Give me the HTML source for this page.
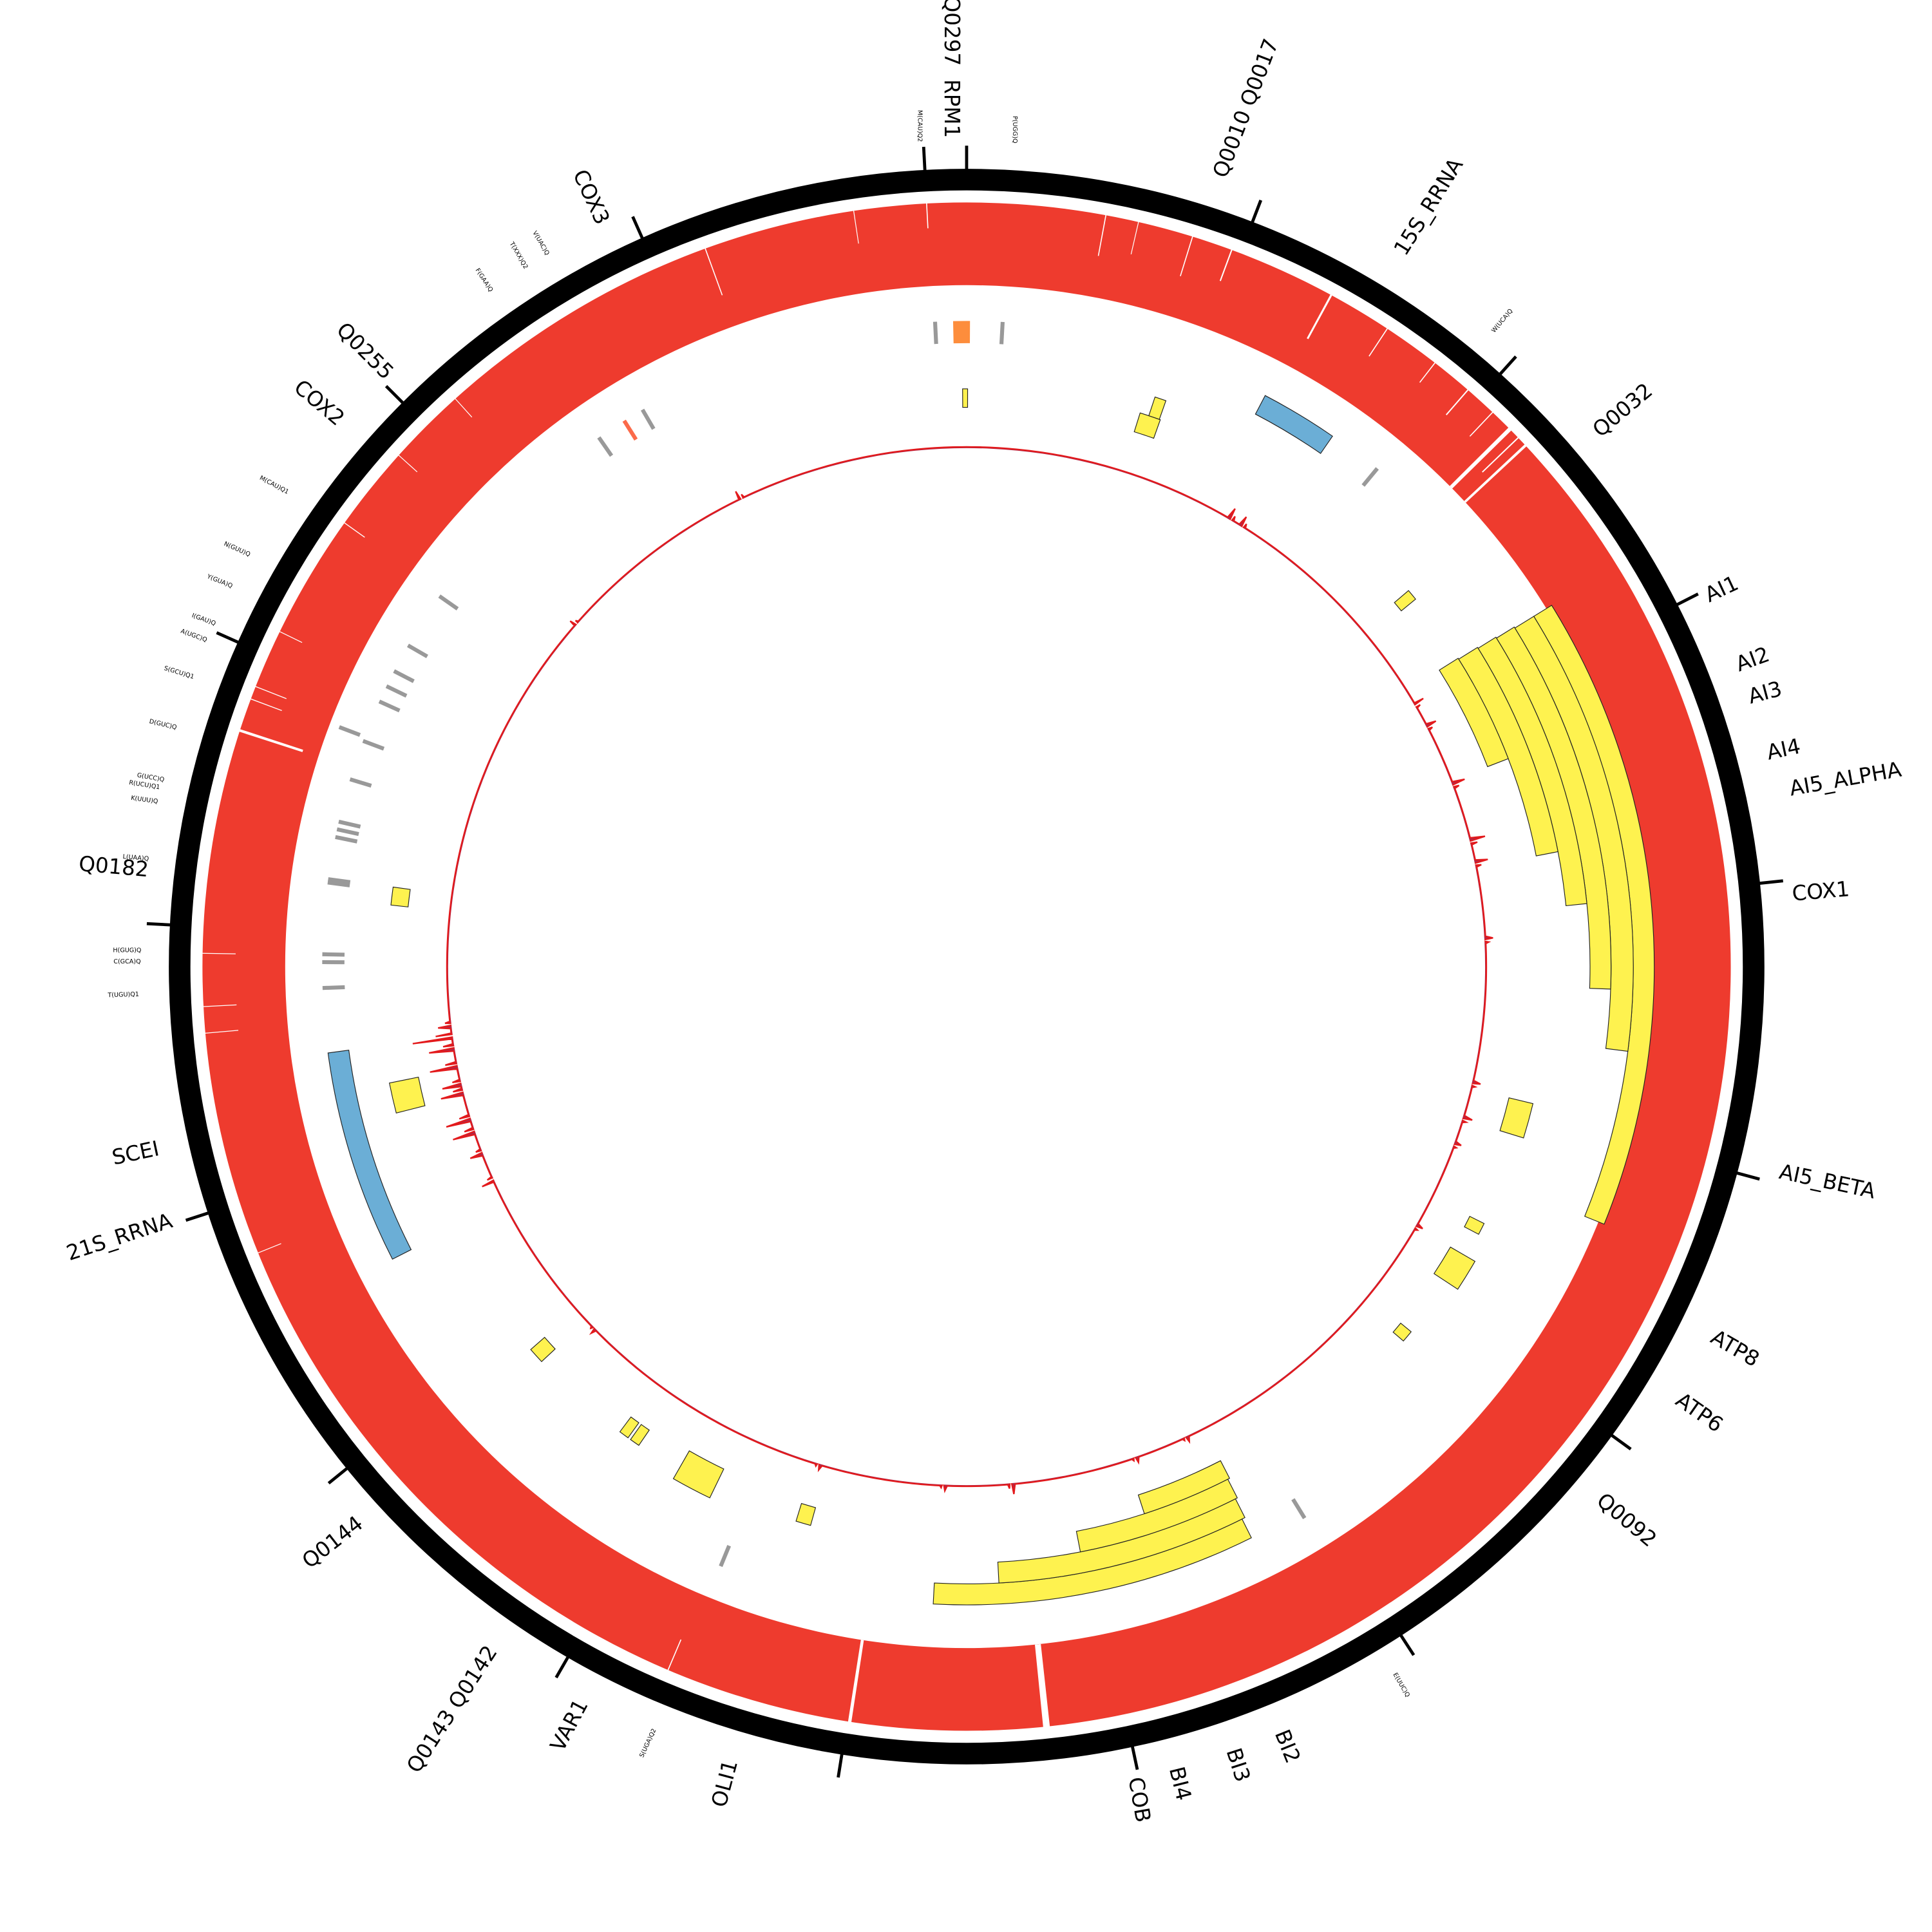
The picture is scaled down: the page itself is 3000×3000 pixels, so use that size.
<!DOCTYPE html>
<html><head><meta charset="utf-8">
<style>
html,body{margin:0;padding:0;background:#fff;}
svg{display:block;}
text{font-family:"DejaVu Sans","Liberation Sans",sans-serif;fill:#000;}
</style></head>
<body>
<svg id="chart" width="3000" height="3000" viewBox="0 0 1565 1565" xmlns="http://www.w3.org/2000/svg">
<g id="layers"></g>
</svg>
<script>
// ---- data ----
const scaleTickAngles = [0,21,42,63,84,105,126,147,168,189,210,231,252,273,294,315,336,357];
// arc features: start angle, end angle, inner r, outer r, kind
const featStart = [58.3,58.3,58.2,58.1,58.0,57.9, 183,177,169,162, 27.6,243, -1.2, -0.4,17.4,18.3,49.6,103.6,116.4,120.1,129.4,195.6,205.8,214.4,215.7,227.1,255.6,276.1];
const featEnd   = [112,97.3,92.0,84.2,79.0,69.0, 153.5,153.2,153.0,152.8, 34.6,262.3, 0.3, 0.1,19.5,19.4,50.7,107.1,117.6,123.3,130.6,197.1,209.8,215.4,216.7,228.7,258.6,277.9];
const featR1    = [540,522,505,488,470,452, 500,483,466,450, 505,505, 505, 453,454,470,455,452,455,453,455,455,452,455,455,455,453,455];
const featR2    = [557,540,522,505,488,470, 517,500,483,466, 522,522, 523, 468,470,486,470,472,468,476,466,470,478,470,470,470,477,469];
const featKind  = ['y','y','y','y','y','y','y','y','y','y','b','b','o','y','y','y','y','y','y','y','y','y','y','y','y','y','y','y'];
// small tRNA marks: angle, radius
const trnaAngle = [357.2,3.2,39.5,325.2,329.8,327.9,305.1,299.9,297.3,294.3,295.8,290.9,290.5,286.9,283.0,282.3,281.6,277.8,277.5,271.1,270.4,268.1,148.5,202.3];
const trnaRad   = [514,514,514,513,513,513,513,513,513,513,513,535,513,513,513,513,513,513,513,513,513,513,515,516];
const trnaRed   = [0,0,0,0,0,1,0,0,0,0,0,0,0,0,0,0,0,0,0,0,0,0,0,0];
// coverage ring white gaps: angle, width(deg), depth fraction
const gapAngle = [10.5,13,17.2,20.3,28.5,33.4,37.8,41,43.5,45.3,46.2,47,174,188.8,203,248,265,267,271,288,290.5,291.5,296,305.5,312,318,340,351.5,357];
const gapW     = [0.08,0.06,0.08,0.1,0.15,0.08,0.08,0.1,0.08,0.3,0.1,0.2,0.5,0.25,0.08,0.06,0.06,0.06,0.06,0.2,0.07,0.07,0.06,0.07,0.06,0.06,0.08,0.06,0.08];
const gapDepth = [0.5,0.4,0.5,0.4,0.6,0.4,0.3,0.4,0.4,1,0.6,1,1,1,0.4,0.3,0.4,0.4,0.4,0.8,0.4,0.4,0.3,0.3,0.3,0.3,0.6,0.4,0.3];
// GC skew spikes: angle, amplitude
const spikeAngle = [334.2,311.2,30.5,32,59.7,62.5,69.5,76,78.5,87,103,107,110,120,155,161,175,182.5,196.5,225.8,245.7,249,251.5,253,256,257,259,261,262.2,263.5];
const spikeAmp   = [7,5,9,8,8,8,10,12,10,6,6,7,5,5,4,4,8,4,4,4,10,10,18,20,18,15,22,20,32,10];
// labels
const labText = ["Q0297","RPM1","Q0010 Q0017","15S_RRNA","Q0032","AI1","AI2","AI3","AI4","AI5_ALPHA","COX1","AI5_BETA","ATP8","ATP6","Q0092","BI2","BI3","BI4","COB","OLI1","VAR1","Q0143  Q0142","Q0144","21S_RRNA","SCEI","Q0182","COX2","Q0255","COX3"];
const labX = [770,770,1010,1158,1315,1395,1420,1430,1445,1495,1475,1480,1405,1376,1317,1042,1002,955,922,588,462,367,270,97,110,92,258,295,478];
const labY = [25,88,88,168,333,478,535,562,608,632,723,958,1093,1145,1232,1415,1430,1445,1458,1445,1398,1385,1250,1003,935,703,327,285,160];
const labRot = [90,90,-69,-58,-40,-25,-20,-15,-12,-10,-5,12,30,35,40,68,72,76,80,-75,-62,-57,-38,-18,-12,5,40,45,65];
const tinyText = ["M(CAU)Q2","P(UGG)Q","W(UCA)Q","V(UAC)Q","T(XXX)Q2","F(GAA)Q","M(CAU)Q1","N(GUU)Q","Y(GUA)Q","I(GAU)Q","A(UGC)Q","S(GCU)Q1","D(GUC)Q","G(UCC)Q","R(UCU)Q1","K(UUU)Q","L(UAA)Q","H(GUG)Q","C(GCA)Q","T(UGU)Q1","E(UUC)Q","S(UGA)Q2"];
const tinyX = [745,822,1217,438,420,392,222,192,178,165,157,145,132,122,117,117,110,103,103,100,1135,525];
const tinyY = [102,105,260,197,207,227,393,445,471,502,515,545,587,630,636,648,695,770,779,806,1365,1412];
const tinyRot = [90,90,-50,60,60,57,28,24,22,20,20,17,13,10,9,8,5,0,0,-2,60,-65];

// ---- drawing ----
const NS="http://www.w3.org/2000/svg", CX=783, CY=783;
const root=document.getElementById('layers');
function P(a,r){const t=a*Math.PI/180;return [CX+r*Math.sin(t),CY-r*Math.cos(t)];}
function el(tag,attrs){const e=document.createElementNS(NS,tag);for(const k in attrs)e.setAttribute(k,attrs[k]);root.appendChild(e);return e;}
function sector(b1,b2,r1,r2){
  const a1=Math.min(b1,b2),a2=Math.max(b1,b2);
  const p1=P(a1,r2),p2=P(a2,r2),p3=P(a2,r1),p4=P(a1,r1);const lg=(a2-a1)>180?1:0;
  return `M${p1[0]},${p1[1]}A${r2},${r2} 0 ${lg} 1 ${p2[0]},${p2[1]}L${p3[0]},${p3[1]}A${r1},${r1} 0 ${lg} 0 ${p4[0]},${p4[1]}Z`;
}
// outer black ring
let ring=el('circle',{cx:CX,cy:CY,r:637.5,fill:'none',stroke:'#000','stroke-width':17.5});


scaleTickAngles.forEach(a=>{const p1=P(a,645),p2=P(a,665);
  const t=el('line',{x1:p1[0],y1:p1[1],x2:p2[0],y2:p2[1],stroke:'#000','stroke-width':2.5});
  
  });
// coverage ring
let cov=el('path',{d:`M${CX},${CY-619}A619,619 0 1 1 ${CX-0.01},${CY-619}ZM${CX},${CY-552}A552,552 0 1 0 ${CX+0.01},${CY-552}Z`,fill:'#ee3b2e','fill-rule':'evenodd'});


gapAngle.forEach((a,i)=>{const r1=619-67*gapDepth[i];
  const g=el('path',{d:sector(a-gapW[i]/2,a+gapW[i]/2,r1,620),fill:'#fff'});
  
  });
// features
featStart.forEach((s,i)=>{const k=featKind[i];
  const fill=k==='y'?'#fef24f':k==='b'?'#6baed6':'#fd8d3c';
  const f=el('path',{d:sector(s,featEnd[i],featR1[i],featR2[i]),fill:fill,stroke:k==='o'?'none':'#222','stroke-width':0.6});
  
  });
// tRNA marks
trnaAngle.forEach((a,i)=>{const p1=P(a,trnaRad[i]-9),p2=P(a,trnaRad[i]+9);
  const t=el('line',{x1:p1[0],y1:p1[1],x2:p2[0],y2:p2[1],stroke:trnaRed[i]?'#fb6a4a':'#999','stroke-width':3.2});
  
  });
// GC skew
const R0=421;
let idx=spikeAngle.map((a,i)=>i).sort((x,y)=>spikeAngle[x]-spikeAngle[y]);
let pts=[];
idx.forEach(i=>{const a=spikeAngle[i],m=spikeAmp[i];
  pts.push([a-0.35,R0],[a-0.12,R0+m],[a,R0],[a+0.12,R0-m*0.7],[a+0.3,R0+m*0.4],[a+0.45,R0]);});
let d='';
let all=[];let j=0;for(let a=0;a<360;a+=0.5){while(j<pts.length&&pts[j][0]<a){all.push(pts[j]);j++;}all.push([a,R0]);}
while(j<pts.length){all.push(pts[j]);j++;}
all.forEach((p,k)=>{const q=P(p[0],p[1]);d+=(k?'L':'M')+q[0].toFixed(2)+','+q[1].toFixed(2);});
d+='Z';
let sk=el('path',{d:d,fill:'#a50026','fill-opacity':0.85,stroke:'#e31a1c','stroke-width':1.2});


let inner=el('circle',{cx:CX,cy:CY,r:R0-1,fill:'#fff'});


// labels
labText.forEach((t,i)=>{const e=el('text',{x:labX[i],y:labY[i],'font-size':17,'text-anchor':'middle','dominant-baseline':'middle',transform:`rotate(${labRot[i]} ${labX[i]} ${labY[i]})`});
  e.textContent=t;
  
  });
tinyText.forEach((t,i)=>{const e=el('text',{x:tinyX[i],y:tinyY[i],'font-size':5,'text-anchor':'middle','dominant-baseline':'middle',transform:`rotate(${tinyRot[i]} ${tinyX[i]} ${tinyY[i]})`});
  e.textContent=t;
  
  });
</script>
</body></html>
